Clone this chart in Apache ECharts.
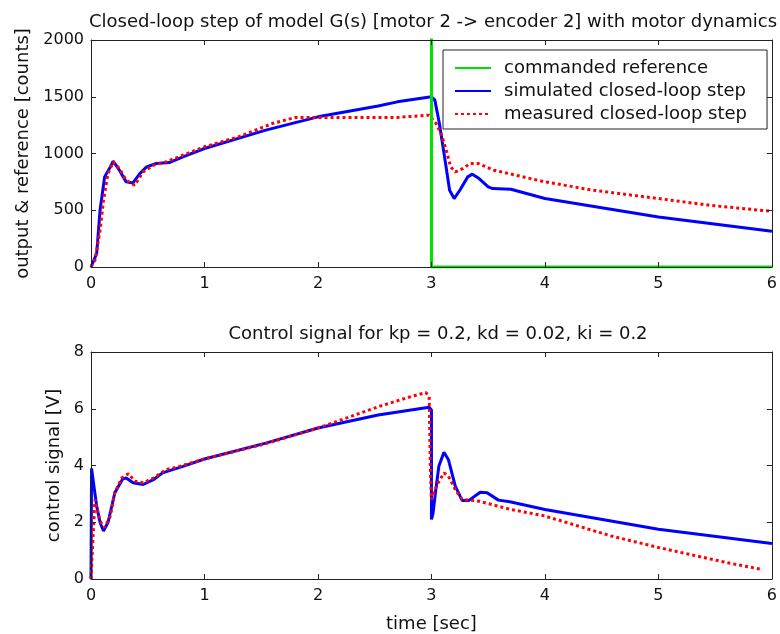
<!DOCTYPE html>
<html>
<head>
<meta charset="utf-8">
<script src="https://cdn.jsdelivr.net/npm/echarts@6/dist/echarts.min.js"></script>
<style>
html,body{margin:0;padding:0;background:#fff;}
#chart{width:780px;height:634px;}
</style>
</head>
<body>
<div id="chart"></div>
<script>
// ---- data ----
var xTicks = [0, 1, 2, 3, 4, 5, 6];
var refT = [0, 3, 3, 6];
var refV = [2500, 2500, 0, 0];

var simOutT = [0, 0.05, 0.08, 0.12, 0.17, 0.195, 0.25, 0.31, 0.37, 0.43, 0.49, 0.575, 0.69, 0.81, 1.0, 1.54, 2.0, 2.53, 2.7, 3.0, 3.03, 3.07, 3.12, 3.16, 3.2, 3.25, 3.32, 3.36, 3.42, 3.5, 3.54, 3.7, 4.0, 5.0, 6.0];
var simOutV = [0, 118, 500, 794, 882, 932, 853, 750, 741, 823, 882, 912, 920, 970, 1044, 1206, 1323, 1418, 1455, 1500, 1470, 1265, 941, 676, 603, 676, 794, 818, 779, 706, 691, 685, 603, 441, 315];

var measOutT = [0, 0.035, 0.08, 0.11, 0.15, 0.195, 0.25, 0.31, 0.385, 0.46, 0.55, 0.66, 0.81, 1.0, 1.3, 1.6, 1.8, 2.0, 2.7, 2.98, 3.04, 3.09, 3.13, 3.17, 3.21, 3.28, 3.34, 3.41, 3.55, 4.0, 4.43, 5.0, 5.45, 6.0];
var measOutV = [0, 59, 323, 588, 823, 926, 868, 765, 720, 838, 897, 926, 985, 1059, 1147, 1265, 1318, 1318, 1318, 1338, 1265, 1162, 1029, 882, 838, 868, 912, 912, 853, 750, 676, 603, 544, 490];

var simCtrlT = [0, 0.005, 0.03, 0.05, 0.08, 0.11, 0.15, 0.21, 0.28, 0.31, 0.37, 0.46, 0.55, 0.63, 0.81, 1.0, 1.54, 2.0, 2.53, 2.98, 3.0, 3.0, 3.015, 3.035, 3.065, 3.11, 3.15, 3.21, 3.27, 3.33, 3.43, 3.49, 3.59, 3.69, 4.0, 5.0, 6.0];
var simCtrlV = [0, 3.9, 3.15, 2.57, 1.99, 1.69, 1.99, 3.04, 3.53, 3.56, 3.39, 3.33, 3.5, 3.74, 3.97, 4.23, 4.79, 5.32, 5.78, 6.05, 5.96, 2.1, 2.34, 3.04, 3.97, 4.47, 4.2, 3.27, 2.77, 2.77, 3.06, 3.04, 2.78, 2.72, 2.45, 1.75, 1.25];

var measCtrlT = [0, 0.02, 0.035, 0.055, 0.08, 0.12, 0.17, 0.21, 0.27, 0.33, 0.385, 0.46, 0.55, 0.66, 0.78, 1.0, 1.54, 2.0, 2.53, 2.82, 2.95, 2.98, 2.99, 3.0, 3.01, 3.05, 3.11, 3.15, 3.21, 3.27, 3.41, 3.7, 4.0, 4.58, 5.0, 5.6, 5.92];
var measCtrlV = [0, 1.64, 2.8, 2.45, 2.04, 1.81, 2.22, 3.04, 3.56, 3.71, 3.45, 3.39, 3.56, 3.85, 3.97, 4.23, 4.77, 5.32, 6.07, 6.43, 6.57, 6.43, 3.97, 2.8, 2.92, 3.33, 3.74, 3.62, 3.15, 2.8, 2.75, 2.45, 2.22, 1.52, 1.11, 0.58, 0.33];

function pairs(t, v) { return t.map(function (x, i) { return [x, v[i]]; }); }

var FONT = 'DejaVu Sans';
var AX = '#222';
var plain = function (v) { return String(v); };

function xAx(grid, pos, showLabel) {
  return {
    type: 'value', gridIndex: grid, position: pos, min: 0, max: 6, interval: 1,
    axisLine: { show: true, onZero: false, lineStyle: { color: AX, width: 1 } },
    axisTick: { show: true, inside: true, length: 5, lineStyle: { color: AX } },
    axisLabel: { show: showLabel, margin: 9, color: '#111', fontFamily: FONT, fontSize: 16, formatter: plain },
    splitLine: { show: false }, z: 5
  };
}
function yAx(grid, pos, max, interval, showLabel, name, nameGap) {
  return {
    type: 'value', gridIndex: grid, position: pos, min: 0, max: max, interval: interval,
    name: name || '', nameLocation: 'middle', nameGap: nameGap || 0,
    nameTextStyle: { color: '#111', fontFamily: FONT, fontSize: 18 },
    axisLine: { show: true, onZero: false, lineStyle: { color: AX, width: 1 } },
    axisTick: { show: true, inside: true, length: 5, lineStyle: { color: AX } },
    axisLabel: { show: showLabel, margin: 7, color: '#111', fontFamily: FONT, fontSize: 16, formatter: plain },
    splitLine: { show: false }, z: 5
  };
}

var chart = echarts.init(document.getElementById('chart'), null, { renderer: 'canvas' });
chart.setOption({
  animation: false,
  backgroundColor: '#fff',
  title: [
    { text: 'Closed-loop step of model G(s) [motor 2 -> encoder 2] with motor dynamics', left: 428, top: 8, textAlign: 'center',
      textStyle: { fontFamily: FONT, fontSize: 18, fontWeight: 'normal', color: '#111' } },
    { text: 'Control signal for kp = 0.2, kd = 0.02, ki = 0.2', left: 433, top: 320, textAlign: 'center',
      textStyle: { fontFamily: FONT, fontSize: 18, fontWeight: 'normal', color: '#111' } }
  ],
  grid: [
    { left: 91, top: 40, width: 685, height: 227 },
    { left: 91, top: 352, width: 685, height: 228 }
  ],
  xAxis: [
    xAx(0, 'bottom', true), xAx(0, 'top', false),
    Object.assign(xAx(1, 'bottom', true), { name: 'time [sec]', nameLocation: 'middle', nameGap: 36,
      nameTextStyle: { color: '#111', fontFamily: FONT, fontSize: 18 } }),
    xAx(1, 'top', false)
  ],
  yAxis: [
    yAx(0, 'left', 2000, 500, true, 'output & reference [counts]', 59), yAx(0, 'right', 2000, 500, false),
    yAx(1, 'left', 8, 2, true, 'control signal [V]', 26), yAx(1, 'right', 8, 2, false)
  ],
  legend: {
    orient: 'vertical', left: 443, top: 50,
    padding: [9, 20, 6, 11], itemGap: 5, itemWidth: 36, itemHeight: 14,
    borderColor: '#222', borderWidth: 1, backgroundColor: '#fff',
    itemStyle: { opacity: 0 },
    textStyle: { fontFamily: FONT, fontSize: 18, color: '#111', padding: [0, 0, 0, 8] },
    data: ['commanded reference', 'simulated closed-loop step', 'measured closed-loop step'],
    z: 10
  },
  series: [
    { name: 'commanded reference', type: 'line', xAxisIndex: 0, yAxisIndex: 0, data: pairs(refT, refV),
      symbol: 'none', lineStyle: { color: '#00e000', width: 3 }, itemStyle: { color: '#00e000' }, z: 3 },
    { name: 'simulated closed-loop step', type: 'line', xAxisIndex: 0, yAxisIndex: 0, data: pairs(simOutT, simOutV),
      symbol: 'none', lineStyle: { color: '#0000ff', width: 3 }, itemStyle: { color: '#0000ff' }, z: 2 },
    { name: 'measured closed-loop step', type: 'line', xAxisIndex: 0, yAxisIndex: 0, data: pairs(measOutT, measOutV),
      symbol: 'none', lineStyle: { color: '#ff0000', width: 3, type: [3, 3] }, itemStyle: { color: '#ff0000' }, z: 2 },
    { name: 'simulated closed-loop step', type: 'line', xAxisIndex: 2, yAxisIndex: 2, data: pairs(simCtrlT, simCtrlV),
      symbol: 'none', lineStyle: { color: '#0000ff', width: 3 }, itemStyle: { color: '#0000ff' }, z: 2 },
    { name: 'measured closed-loop step', type: 'line', xAxisIndex: 2, yAxisIndex: 2, data: pairs(measCtrlT, measCtrlV),
      symbol: 'none', lineStyle: { color: '#ff0000', width: 3, type: [3, 3] }, itemStyle: { color: '#ff0000' }, z: 2 }
  ]
});
</script>
</body>
</html>
